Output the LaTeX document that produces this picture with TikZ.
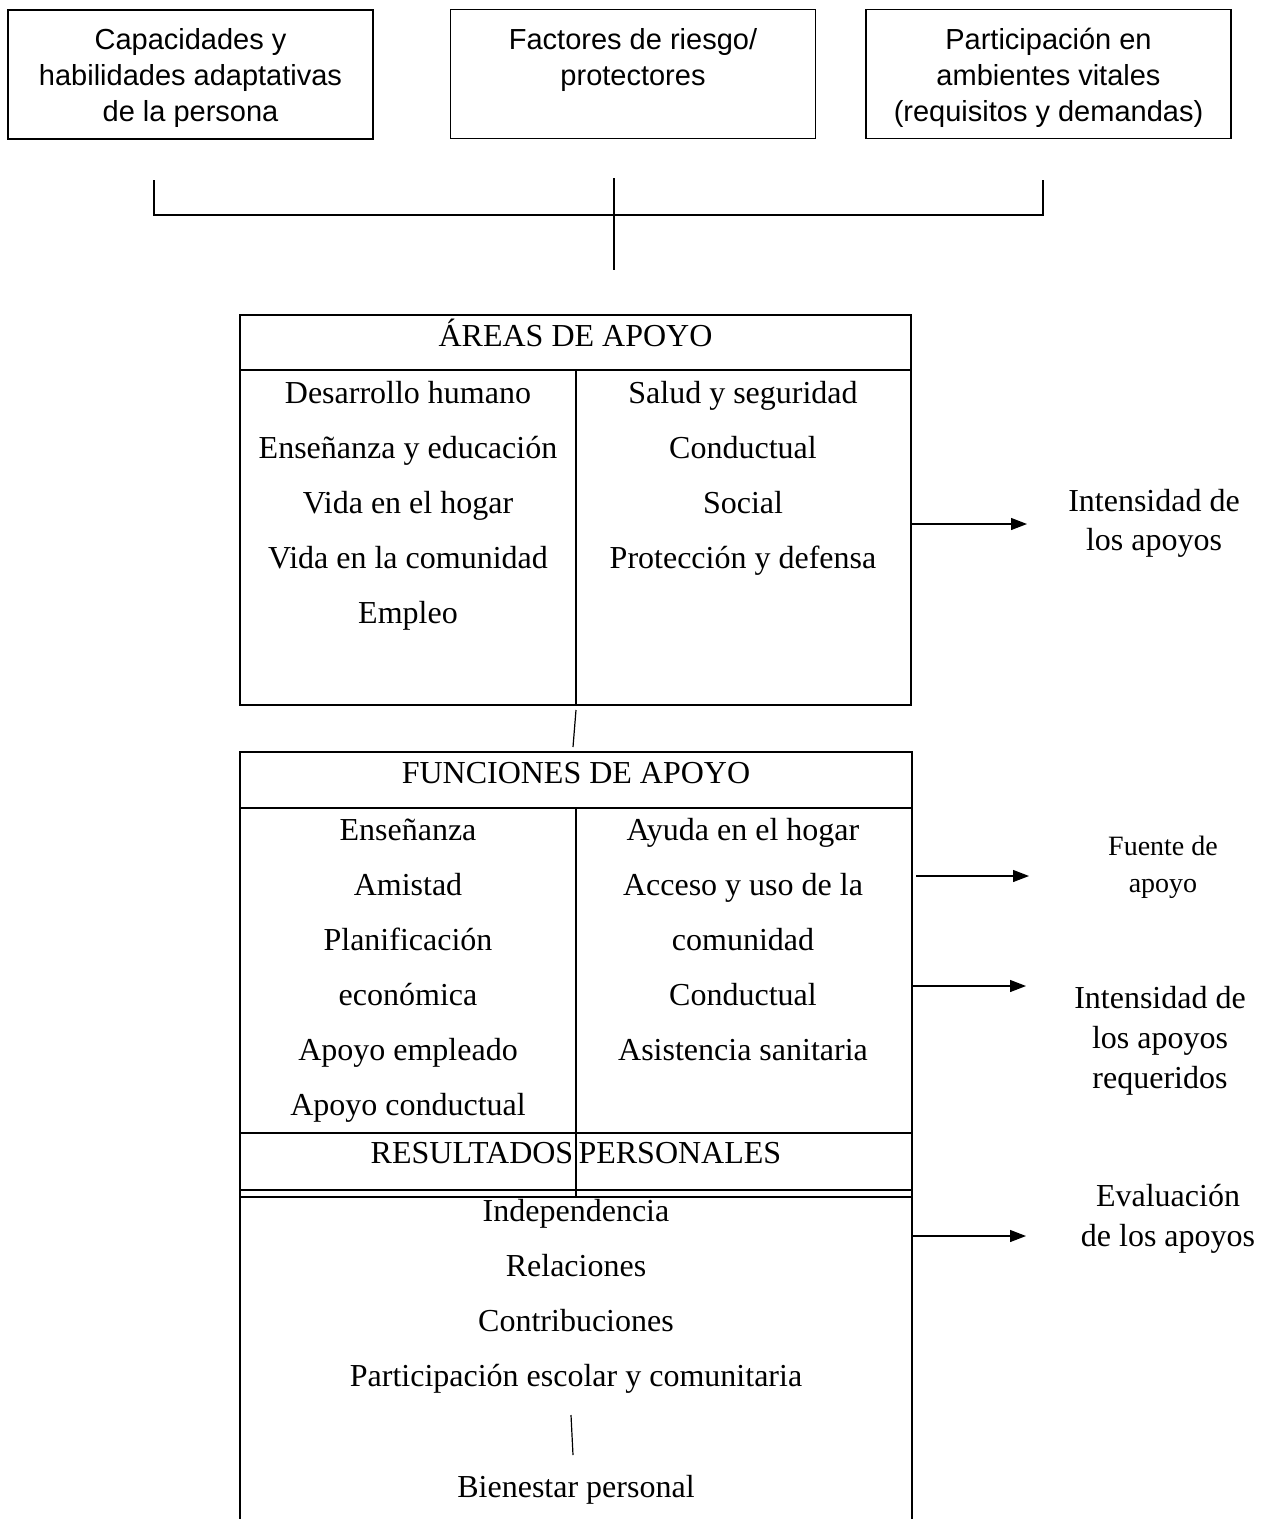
\documentclass[tikz,border=0pt]{standalone}
\usepackage{fontspec}
\setmainfont{Liberation Serif}
\newfontfamily\arialfont{Liberation Sans}
\usetikzlibrary{arrows.meta}

\begin{document}
\begin{tikzpicture}[x=1pt,y=-1pt,
  topbox/.style={draw, line width=1.3pt, minimum width=365pt, minimum height=129pt, inner sep=0pt},
  toptext/.style={font=\arialfont\fontsize{29}{36}\selectfont, anchor=base, inner sep=0pt},
  bodytext/.style={font=\fontsize{32}{40}\selectfont, anchor=base, inner sep=0pt},
  smalltext/.style={font=\fontsize{28}{37}\selectfont, anchor=base, inner sep=0pt},
  framebox/.style={draw, line width=2pt, inner sep=0pt},
  framerule/.style={line width=2pt},
  thinrule/.style={line width=1.4pt},
  link/.style={line width=1.2pt},
  arrowlink/.style={line width=1.2pt, -{Triangle[length=16pt,width=12pt]}}]
\useasboundingbox (0,0) rectangle (1278,1519);

% --- three context boxes ---
\node[topbox] (capbox) at (190.5,74.5) {};
\node[topbox] (facbox) at (633,74) {};
\node[topbox] (parbox) at (1048.5,74) {};

\node[toptext] (cap1) at (190.5,49) {Capacidades y};
\node[toptext] (cap2) at (190.5,85) {habilidades adaptativas};
\node[toptext] (cap3) at (190.5,121) {de la persona};

\node[toptext] (fac1) at (633,49) {Factores de riesgo/};
\node[toptext] (fac2) at (633,85) {protectores};

\node[toptext] (par1) at (1048.5,49) {Participación en};
\node[toptext] (par2) at (1048.5,85) {ambientes vitales};
\node[toptext] (par3) at (1048.5,121) {(requisitos y demandas)};

% --- bracket joining the three boxes ---
\coordinate (brL) at (154,180);
\coordinate (brLc) at (154,215);
\coordinate (brR) at (1043,180);
\coordinate (brRc) at (1043,215);
\coordinate (brMt) at (614,178);
\coordinate (brMb) at (614,270);
\draw[link] (brL) -- (brLc) -- (brRc) -- (brR);
\draw[link] (brMt) -- (brMb);

% --- areas of support ---
\node[framebox, minimum width=671pt, minimum height=390pt] (areas) at (575.5,510) {};
\draw[framerule] (240,370) -- (911,370);
\draw[thinrule] (576,370) -- (576,705);
\node[bodytext] (areasT) at (575.5,346) {ÁREAS DE APOYO};

\foreach \t [count=\i] in {Desarrollo humano, Enseñanza y educación, Vida en el hogar, Vida en la comunidad, Empleo}
  \node[bodytext] (areaL\i) at (408,{403+55*(\i-1)}) {\t};
\foreach \t [count=\i] in {Salud y seguridad, Conductual, Social, Protección y defensa}
  \node[bodytext] (areaR\i) at (743,{403+55*(\i-1)}) {\t};

\coordinate (arr1) at (1027,524);
\draw[arrowlink] (areas.east |- arr1) -- (arr1);
\node[bodytext] (lab1a) at (1154,511) {Intensidad de};
\node[bodytext] (lab1b) at (1154,550) {los apoyos};

% --- link between the two panels ---
\coordinate (midA) at (576,710);
\coordinate (midB) at (573,747);
\draw[link] (midA) -- (midB);

% --- support functions and personal outcomes ---
\coordinate (fnTL) at (240,752);
\coordinate (fnTR) at (912,752);
\draw[framerule] (240,1530) -- (fnTL) -- (fnTR) -- (912,1530);
\draw[framerule] (240,808) -- (912,808);
\draw[framerule] (240,1133) -- (912,1133);
\draw[thinrule] (240,1190) -- (912,1190);
\draw[framerule] (240,1197) -- (912,1197);
\draw[thinrule] (576,808) -- (576,1197);

\node[bodytext] (funT) at (576,783) {FUNCIONES DE APOYO};
\foreach \t [count=\i] in {Enseñanza, Amistad, Planificación, económica, Apoyo empleado, Apoyo conductual}
  \node[bodytext] (funL\i) at (408,{840+55*(\i-1)}) {\t};
\foreach \t [count=\i] in {Ayuda en el hogar, Acceso y uso de la, comunidad, Conductual, Asistencia sanitaria}
  \node[bodytext] (funR\i) at (743,{840+55*(\i-1)}) {\t};

\node[bodytext] (resT) at (576,1163) {RESULTADOS\,PERSONALES};
\foreach \t [count=\i] in {Independencia, Relaciones, Contribuciones, Participación escolar y comunitaria}
  \node[bodytext] (res\i) at (576,{1221+55*(\i-1)}) {\t};
\coordinate (bienA) at (571,1415);
\coordinate (bienB) at (573,1455);
\draw[link] (bienA) -- (bienB);
\node[bodytext] (bien) at (576,1497) {Bienestar personal};

% --- arrows to the right-hand notes ---
\coordinate (arr2s) at (916,876);
\coordinate (arr2) at (1029,876);
\draw[arrowlink] (arr2s) -- (arr2);
\node[smalltext] (lab2a) at (1163,855) {Fuente de};
\node[smalltext] (lab2b) at (1163,892) {apoyo};

\coordinate (arr3) at (1026,986);
\draw[arrowlink] (fnTR |- arr3) -- (arr3);
\node[bodytext] (lab3a) at (1160,1008) {Intensidad de};
\node[bodytext] (lab3b) at (1160,1048) {los apoyos};
\node[bodytext] (lab3c) at (1160,1088) {requeridos};

\coordinate (arr4) at (1026,1236);
\draw[arrowlink] (fnTR |- arr4) -- (arr4);
\node[bodytext] (lab4a) at (1168,1206) {Evaluación};
\node[bodytext] (lab4b) at (1168,1246) {de los apoyos};
\end{tikzpicture}
\end{document}
